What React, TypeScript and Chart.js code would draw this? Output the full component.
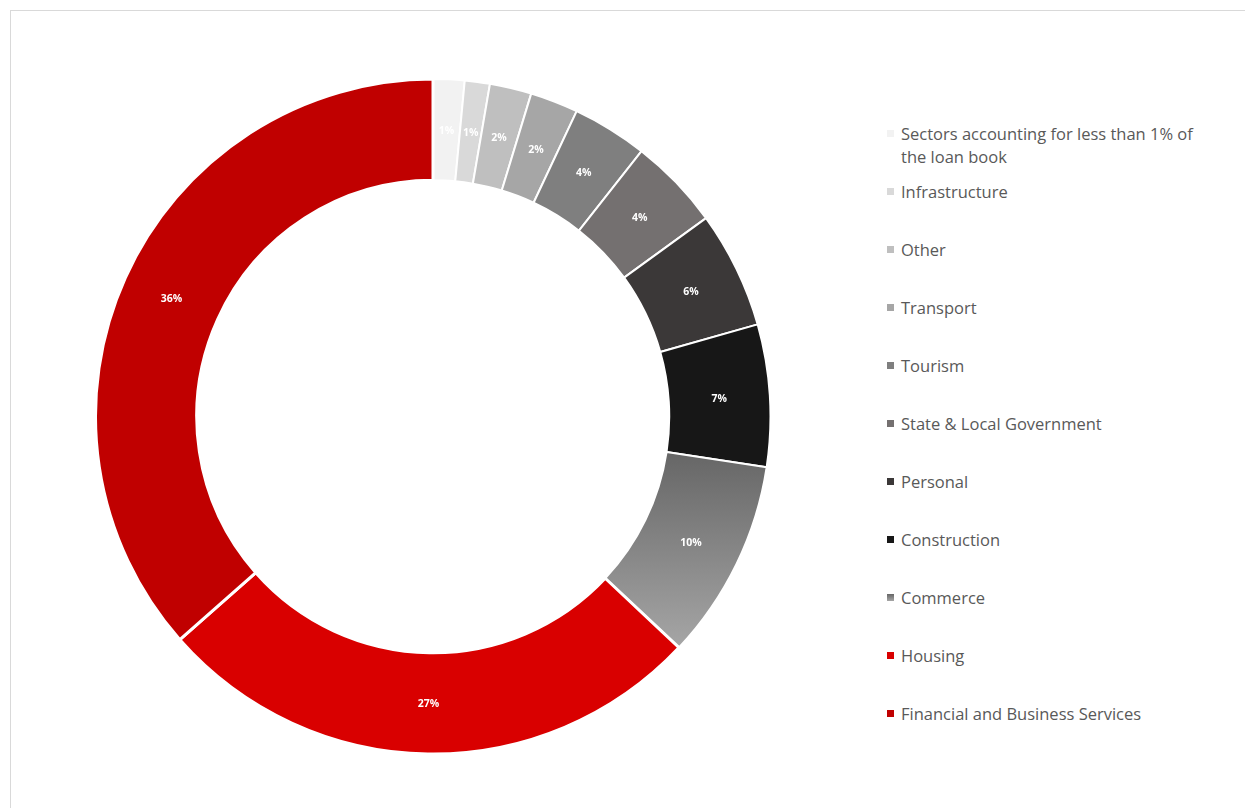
import React, { useEffect, useRef } from "react";
import { Chart, registerables } from "chart.js";

Chart.register(...registerables);

const categories: string[] = [
  "Sectors accounting for less than 1% of the loan book",
  "Infrastructure",
  "Other",
  "Transport",
  "Tourism",
  "State & Local Government",
  "Personal",
  "Construction",
  "Commerce",
  "Housing",
  "Financial and Business Services",
];

const shares: number[] = [1.5, 1.2, 2.0, 2.3, 3.6, 4.4, 5.6, 6.8, 9.6, 26.5, 36.5];

const pctLabels: string[] = ["1%", "1%", "2%", "2%", "4%", "4%", "6%", "7%", "10%", "27%", "36%"];

const colors: string[] = [
  "#f2f2f2",
  "#d9d9d9",
  "#bfbfbf",
  "#a6a6a6",
  "#7f7f7f",
  "#747070",
  "#3b3838",
  "#171717",
  "GRADIENT",
  "#d90000",
  "#c00000",
];

const borderWidths: number[] = [2, 2, 2, 2, 2, 2, 2, 2, 2, 3, 3];

const gradientStops: string[] = ["#666666", "#a6a6a6"];

const FONT = "'Open Sans', 'Noto Sans', sans-serif";

const labelPlugin = {
  id: "sliceLabels",
  afterDatasetsDraw(chart: any) {
    const meta = chart.getDatasetMeta(0);
    const ctx = chart.ctx;
    ctx.save();
    ctx.font = `bold 10.5px ${FONT}`;
    ctx.fillStyle = "#ffffff";
    ctx.textAlign = "center";
    ctx.textBaseline = "middle";
    meta.data.forEach((arc: any, i: number) => {
      const p = arc.tooltipPosition(false);
      ctx.fillText(pctLabels[i], p.x, p.y + 1);
    });
    ctx.restore();
  },
};

function sliceColor(context: any) {
  const i = context.dataIndex;
  const c = colors[i];
  if (c !== "GRADIENT") return c;
  const chart = context.chart;
  const area = chart.chartArea;
  if (!area) return gradientStops[0];
  const total = shares.reduce((a, b) => a + b, 0);
  let before = 0;
  for (let k = 0; k < i; k++) before += shares[k];
  const a0 = (before / total) * Math.PI * 2;
  const a1 = ((before + shares[i]) / total) * Math.PI * 2;
  const cy = (area.top + area.bottom) / 2;
  const R = Math.min(area.right - area.left, area.bottom - area.top) / 2;
  const r = R * 0.7;
  const ys = [a0, a1].flatMap((a) => [cy - Math.cos(a) * R, cy - Math.cos(a) * r]);
  const g = chart.ctx.createLinearGradient(0, Math.min(...ys), 0, Math.max(...ys));
  g.addColorStop(0, gradientStops[0]);
  g.addColorStop(1, gradientStops[1]);
  return g;
}

export default function App() {
  const ref = useRef<HTMLCanvasElement | null>(null);

  useEffect(() => {
    if (!ref.current) return;
    const chart = new Chart(ref.current, {
      type: "doughnut",
      data: {
        labels: categories,
        datasets: [
          {
            data: shares,
            backgroundColor: sliceColor as any,
            borderColor: "#ffffff",
            borderWidth: borderWidths,
          },
        ],
      },
      options: {
        animation: false,
        responsive: true,
        maintainAspectRatio: false,
        cutout: "70%",
        layout: { padding: 0 },
        plugins: {
          legend: { display: false },
          tooltip: { enabled: false },
        },
      },
      plugins: [labelPlugin],
    });
    return () => chart.destroy();
  }, []);

  return (
    <div
      style={{
        position: "fixed",
        left: 0,
        top: 0,
        width: 1245,
        height: 808,
        overflow: "hidden",
        background: "#ffffff",
      }}
    >
      <div
        style={{
          position: "absolute",
          left: 10,
          top: 10,
          width: 1400,
          height: 1000,
          borderTop: "1px solid #d9d9d9",
          borderLeft: "1px solid #d9d9d9",
        }}
      />
      <div style={{ position: "absolute", left: 94, top: 77, width: 678, height: 679 }}>
        <canvas ref={ref} />
      </div>
      <div
        style={{
          position: "absolute",
          left: 887,
          top: 122,
          width: 340,
          fontFamily: FONT,
          fontSize: 16.5,
          lineHeight: "23px",
          color: "#595959",
        }}
      >
        {categories.map((name, i) => (
          <div key={name} style={{ display: "flex", alignItems: "flex-start", height: 58 }}>
            <span
              style={{
                display: "inline-block",
                width: 7,
                height: 7,
                marginTop: 8,
                marginRight: 7,
                flex: "0 0 auto",
                background:
                  colors[i] === "GRADIENT"
                    ? `linear-gradient(${gradientStops[0]}, ${gradientStops[1]})`
                    : colors[i],
              }}
            />
            <span style={{ width: 305 }}>{name}</span>
          </div>
        ))}
      </div>
    </div>
  );
}
